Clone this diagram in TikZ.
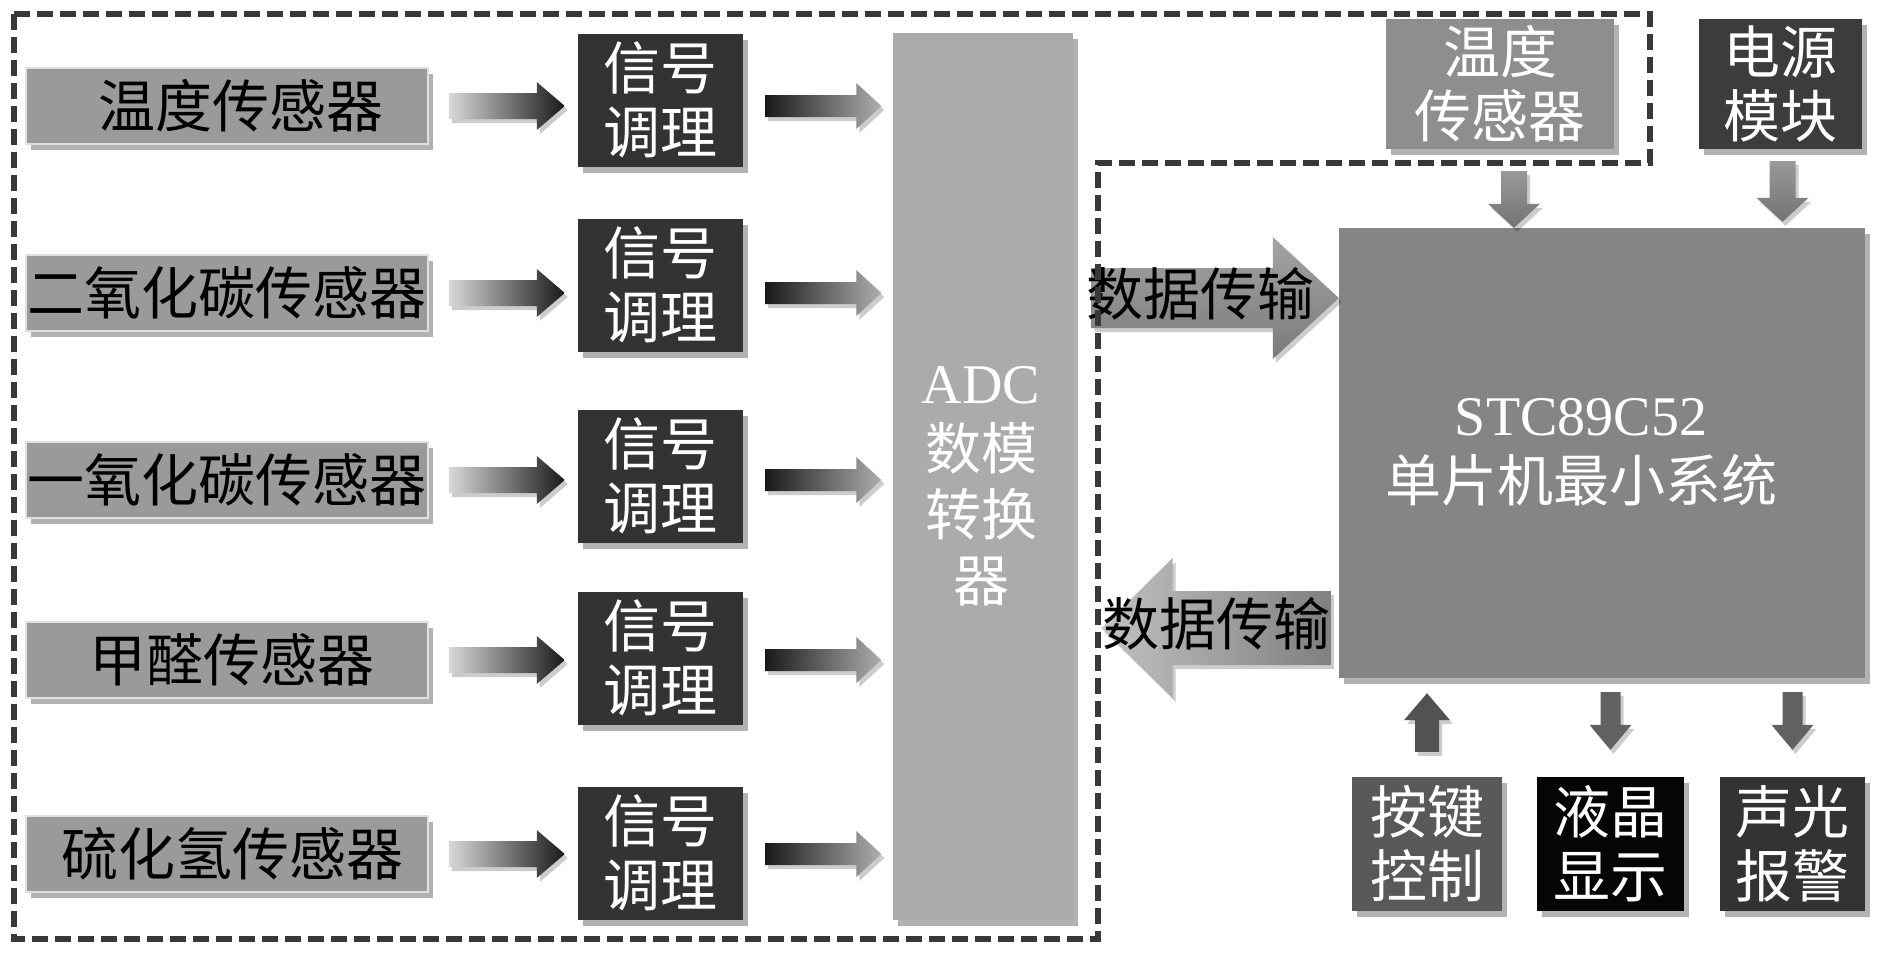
\documentclass[tikz,border=0pt]{standalone}
\usepackage{fontspec}
\setmainfont{Liberation Serif}
\newfontfamily\cjk{Noto Sans CJK SC}
\usetikzlibrary{calc,shadows}
\definecolor{sensorfill}{HTML}{9A9A9A}
\definecolor{sigfill}{HTML}{333333}
\definecolor{adcfill}{HTML}{ABABAB}
\definecolor{mcufill}{HTML}{858585}
\definecolor{tempfill}{HTML}{8E8E8E}
\definecolor{powfill}{HTML}{3C3C3C}
\definecolor{keyfill}{HTML}{595959}
\definecolor{lcdfill}{HTML}{050505}
\definecolor{alarmfill}{HTML}{333333}
\definecolor{framecol}{HTML}{383838}
% rightward block arrow: style, from, to, gap at start, gap at tip, shaft half, head half, head length
\newcommand\harrow[8]{%
  \path[#1] let \p1=#2, \p2=#3 in
   ({\x1+#4pt},{\y1+#6pt}) -- ({\x2-#5pt-#8pt},{\y1+#6pt}) -- ({\x2-#5pt-#8pt},{\y1+#7pt})
   -- ({\x2-#5pt},\y1) -- ({\x2-#5pt-#8pt},{\y1-#7pt}) -- ({\x2-#5pt-#8pt},{\y1-#6pt})
   -- ({\x1+#4pt},{\y1-#6pt}) -- cycle;}
% leftward block arrow
\newcommand\larrow[8]{%
  \path[#1] let \p1=#2, \p2=#3 in
   ({\x1-#4pt},{\y1+#6pt}) -- ({\x2+#5pt+#8pt},{\y1+#6pt}) -- ({\x2+#5pt+#8pt},{\y1+#7pt})
   -- ({\x2+#5pt},\y1) -- ({\x2+#5pt+#8pt},{\y1-#7pt}) -- ({\x2+#5pt+#8pt},{\y1-#6pt})
   -- ({\x1-#4pt},{\y1-#6pt}) -- cycle;}
% downward block arrow (x taken from the start)
\newcommand\darrow[8]{%
  \path[#1] let \p1=#2, \p2=#3 in
   ({\x1+#6pt},{\y1-#4pt}) -- ({\x1+#6pt},{\y2+#5pt+#8pt}) -- ({\x1+#7pt},{\y2+#5pt+#8pt})
   -- (\x1,{\y2+#5pt}) -- ({\x1-#7pt},{\y2+#5pt+#8pt}) -- ({\x1-#6pt},{\y2+#5pt+#8pt})
   -- ({\x1-#6pt},{\y1-#4pt}) -- cycle;}
% upward block arrow (x taken from the start)
\newcommand\uarrow[8]{%
  \path[#1] let \p1=#2, \p2=#3 in
   ({\x1+#6pt},{\y1+#4pt}) -- ({\x1+#6pt},{\y2-#5pt-#8pt}) -- ({\x1+#7pt},{\y2-#5pt-#8pt})
   -- (\x1,{\y2-#5pt}) -- ({\x1-#7pt},{\y2-#5pt-#8pt}) -- ({\x1-#6pt},{\y2-#5pt-#8pt})
   -- ({\x1-#6pt},{\y1+#4pt}) -- cycle;}
\begin{document}
\begin{tikzpicture}[x=1pt,y=-1pt,
  cnfont/.style={font=\cjk\fontsize{57}{64}\selectfont},
  shd/.style={drop shadow={shadow xshift=5pt,shadow yshift=-6pt,opacity=0.3,fill=black}},
  ashd/.style={drop shadow={shadow xshift=3pt,shadow yshift=-4pt,opacity=0.2,fill=black}},
  blk/.style={rectangle,inner sep=0pt,shd,cnfont,align=center},
  sensor/.style={blk,fill=sensorfill,draw=black!12,line width=1.5pt,minimum width=402pt,minimum height=76pt,text=black},
  sig/.style={blk,fill=sigfill,minimum width=165pt,minimum height=133pt,text=white},
  adcbox/.style={blk,fill=adcfill,minimum width=180pt,minimum height=887pt},
  mcubox/.style={blk,fill=mcufill,minimum width=526pt,minimum height=450pt},
  topbox/.style={blk,minimum height=130pt,text=white},
  botbox/.style={blk,minimum height=134pt,text=white},
  whitetext/.style={inner sep=0pt,align=center,text=white},
  arrowtext/.style={inner sep=0pt,cnfont,text=black},
  sarr/.style={left color=black!15,right color=black!90,ashd},
  aarr/.style={left color=black!90,right color=black!32,ashd},
  bigR/.style={top color=black!36,bottom color=black!52,ashd},
  bigL/.style={left color=black!24,right color=black!50,ashd},
  varr/.style={top color=black!40,bottom color=black!55,ashd},
  uparr/.style={fill=black!68,ashd},
  dnarr/.style={fill=black!62,ashd},
  frame/.style={draw=framecol,line width=5.5pt,dash pattern=on 16pt off 7pt}
]
\fill[white] (0,0) rectangle (1890,954);
\useasboundingbox (0,0) rectangle (1890,954);

% sensors
\node[sensor] (s1) at (227,106) {\hspace*{28pt}温度传感器};
\node[sensor] (s2) at (227,293) {二氧化碳传感器};
\node[sensor] (s3) at (227,480) {一氧化碳传感器};
\node[sensor] (s4) at (227,660) {\hspace*{10pt}甲醛传感器};
\node[sensor] (s5) at (227,854) {\hspace*{10pt}硫化氢传感器};

% signal conditioning
\node[sig] (c1) at (660.5,100) {信号\\调理};
\node[sig] (c2) at (660.5,285) {信号\\调理};
\node[sig] (c3) at (660.5,476) {信号\\调理};
\node[sig] (c4) at (660.5,658) {信号\\调理};
\node[sig] (c5) at (660.5,853) {信号\\调理};

% ADC
\node[adcbox] (adc) at (982.5,476.5) {};
\node[whitetext,font=\cjk\fontsize{56}{66}\selectfont] (adct) at (981,486)
  {{\rmfamily ADC}\\数模\\转换\\器};

% MCU
\node[mcubox] (mcu) at (1602,453) {};
\node[whitetext,font=\cjk\fontsize{56}{66}\selectfont] (mcut) at (1581,452)
  {{\rmfamily STC89C52}\\单片机最小系统};

% top right boxes
\node[topbox,fill=tempfill,minimum width=228pt] (tb) at (1500,84) {温度\\传感器};
\node[topbox,fill=powfill,minimum width=163pt] (pw) at (1780.5,84) {电源\\模块};

% bottom boxes
\node[botbox,fill=keyfill,minimum width=150pt] (key) at (1427,844) {按键\\控制};
\node[botbox,fill=lcdfill,minimum width=147pt] (lcd) at (1610.5,844) {液晶\\显示};
\node[botbox,fill=alarmfill,minimum width=145pt] (alarm) at (1792.5,844) {声光\\报警};

% big arrow label positions
\coordinate (d1) at (1200,298);
\coordinate (d2) at (1216,628);

% sensor -> signal -> ADC arrows
\foreach \i in {1,...,5}{
  \harrow{sarr}{(s\i.east)}{(c\i.west)}{20}{13}{13}{24}{28}
  \harrow{aarr}{(c\i.east |- s\i.east)}{(adc.west)}{22}{11}{11}{23}{25}
}

% data transfer arrows
\harrow{bigR}{(adc.east |- d1)}{(mcu.west |- d1)}{19}{0}{30}{61}{66}
\larrow{bigL}{(mcu.west |- d2)}{(adc.east |- d2)}{8}{29}{37}{70}{71}
\node[arrowtext] (dt1) at (1200,294) {数据传输};
\node[arrowtext] (dt2) at (1216,624) {数据传输};

% vertical arrows
\darrow{varr}{($(tb.south)+(14,0)$)}{(mcu.north)}{22}{0}{13}{26}{24}
\darrow{varr}{($(pw.south)+(2,0)$)}{(mcu.north)}{12}{6}{13}{26}{24}
\uarrow{uparr}{(key.north)}{(mcu.south -| key.north)}{25}{15}{12}{23}{27}
\darrow{dnarr}{(mcu.south -| lcd.north)}{(lcd.north)}{14}{27}{10}{21}{25}
\darrow{dnarr}{(mcu.south -| alarm.north)}{(alarm.north)}{14}{27}{10}{21}{25}

% dashed frame
\draw[frame] (14,14) -- (1650,14) -- (1650,163) -- (1098,163) -- (1098,939) -- (14,939) -- cycle;
\end{tikzpicture}
\end{document}
